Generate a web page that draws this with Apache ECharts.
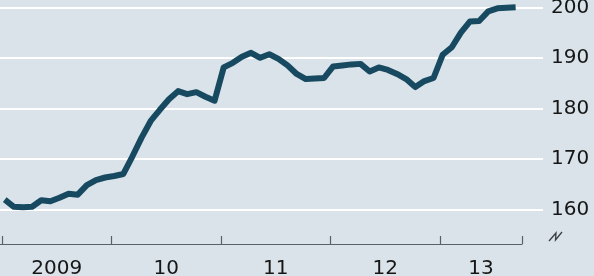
<!DOCTYPE html>
<html>
<head>
<meta charset="utf-8">
<script src="https://cdn.jsdelivr.net/npm/echarts@6/dist/echarts.min.js"></script>
<style>
html,body{margin:0;padding:0;background:#d9e3e9;}
#c{width:594px;height:276px;}
</style>
</head>
<body>
<div id="c"></div>
<script>
// Monthly index values, Jan 2009 .. Sep 2013
var values = [
  161.9, 160.5, 160.4, 160.5, 161.8, 161.6, 162.3, 163.1, 162.9, 164.8, 165.8, 166.3,
  166.6, 167.0, 170.5, 174.2, 177.5, 179.7, 181.8, 183.4, 182.8, 183.2, 182.3, 181.5,
  188.1, 189.0, 190.2, 191.0, 190.0, 190.7, 189.8, 188.5, 186.8, 185.8, 185.9, 186.0,
  188.3, 188.5, 188.7, 188.8, 187.3, 188.1, 187.6, 186.8, 185.8, 184.2, 185.4, 186.0,
  190.6, 192.1, 195.0, 197.2, 197.3, 199.2, 199.8, 199.9, 200.0
];
var yearTickMonths = [0, 12, 24, 36, 48, 57];
var yearLabelMonths = [6, 18, 30, 42, 52.5];
var yearLabels = ['2009', '10', '11', '12', '13'];

var seriesData = values.map(function (v, i) { return [i + 0.3, v]; });

var chart = echarts.init(document.getElementById('c'), null, {renderer: 'canvas'});
var font = 'DejaVu Sans';
chart.setOption({
  backgroundColor: '#d9e3e9',
  animation: false,
  grid: [
    {left: 0, right: 51, top: 0, bottom: 32, containLabel: false, outerBoundsMode: 'none'},
    {left: 0, right: 72, top: 0, bottom: 32, containLabel: false, outerBoundsMode: 'none'}
  ],
  xAxis: [
    {gridIndex: 0, type: 'value', min: -0.22, max: 59.30, show: false},
    {
      gridIndex: 1, type: 'value', min: -0.22, max: 57,
      splitLine: {show: false},
      axisLine: {show: true, lineStyle: {color: '#566169', width: 1.2}},
      axisTick: {show: true, inside: true, length: 8, customValues: yearTickMonths,
        lineStyle: {color: '#566169', width: 1.2}},
      axisLabel: {
        show: true, customValues: yearLabelMonths, margin: 15,
        fontFamily: font, fontSize: 20, color: '#161616',
        formatter: function (v) {
          var i = yearLabelMonths.indexOf(v);
          return i >= 0 ? yearLabels[i] : '';
        }
      }
    }
  ],
  yAxis: [
    {
      gridIndex: 0, type: 'value', position: 'right', min: 153.13, max: 201.45, splitNumber: 5,
      axisLine: {show: false}, axisTick: {show: false},
      splitLine: {show: true, showMinLine: false, showMaxLine: false,
        lineStyle: {color: '#ffffff', width: 2}},
      axisLabel: {
        show: true, inside: false, margin: 8, showMinLabel: false, showMaxLabel: false,
        fontFamily: font, fontSize: 20, color: '#161616',
        formatter: function (v) { return (Math.abs(v % 10) < 1e-6) ? String(v) : ''; }
      }
    },
    {gridIndex: 1, type: 'value', show: false, min: 0, max: 1}
  ],
  graphic: [
    {
      type: 'polyline', silent: true,
      shape: {points: [[549, 241], [556, 233], [555.5, 240], [562, 232]]},
      style: {stroke: '#3a3f44', lineWidth: 1.3, fill: null}
    }
  ],
  series: [
    {
      type: 'line', xAxisIndex: 0, yAxisIndex: 0,
      data: seriesData, showSymbol: false, clip: false, smooth: false,
      lineStyle: {color: '#174a60', width: 6, cap: 'butt', join: 'round'}
    }
  ]
});
</script>
</body>
</html>
